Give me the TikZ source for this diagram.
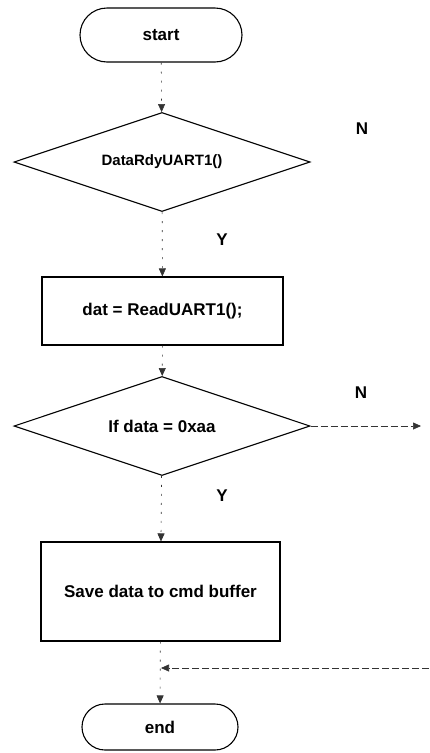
\documentclass[tikz,border=0pt]{standalone}
\usepackage{fontspec}
\setmainfont{Liberation Sans}
\usetikzlibrary{shapes.geometric,arrows.meta}

\begin{document}
\begin{tikzpicture}[x=1pt, y=-1pt,
  font = \bfseries\fontsize{17}{20}\selectfont,
  terminal/.style = {draw, line width=1.1pt, inner sep=0pt},
  decision/.style = {draw, diamond, aspect=3, line width=1.1pt, inner sep=0pt,
                     minimum width=296pt, minimum height=99pt},
  process/.style  = {draw, rectangle, line width=1.1pt, inner sep=0pt},
  flowline/.style = {draw=black!80, line width=0.6pt, dash pattern=on 2pt off 7pt,
                     -{Triangle[width=7pt,length=8pt]}},
  sideline/.style = {draw=black!80, line width=0.6pt, dash pattern=on 7pt off 3pt,
                     -{Triangle[width=7pt,length=8pt]}}]
\useasboundingbox (0,0) rectangle (429,753);

\node[terminal, minimum width=162pt, minimum height=54pt, rounded corners=27pt] (start) at (161,35) {start};
\node[decision] (rdy) at (162,162) {\fontsize{15}{18}\selectfont DataRdyUART1()};
\node[process, minimum width=241pt, minimum height=68pt] (read) at (162.5,311) {dat = ReadUART1();};
\node[decision] (check) at (162,426) {If data = 0xaa};
\node[process, minimum width=239pt, minimum height=99pt] (save) at (160.5,591.5) {Save data to cmd buffer};
\node[terminal, minimum width=156pt, minimum height=46pt, rounded corners=23pt] (end) at (160,727) {end};

\node (n1) at (362,129) {N};
\node (y1) at (222,240) {Y};
\node (n2) at (361,393) {N};
\node (y2) at (222,496) {Y};

\coordinate (out) at (421,426);
\coordinate (back) at (429,668);
\coordinate (merge) at (161,668);

\draw[flowline] (start) -- (rdy);
\draw[flowline] (rdy) -- (read);
\draw[flowline] (read) -- (check);
\draw[flowline] (check) -- (save);
\draw[flowline] (save) -- (end);
\draw[sideline] (check.east) -- (out);
\draw[sideline] (back) -- (merge);

\end{tikzpicture}
\end{document}
